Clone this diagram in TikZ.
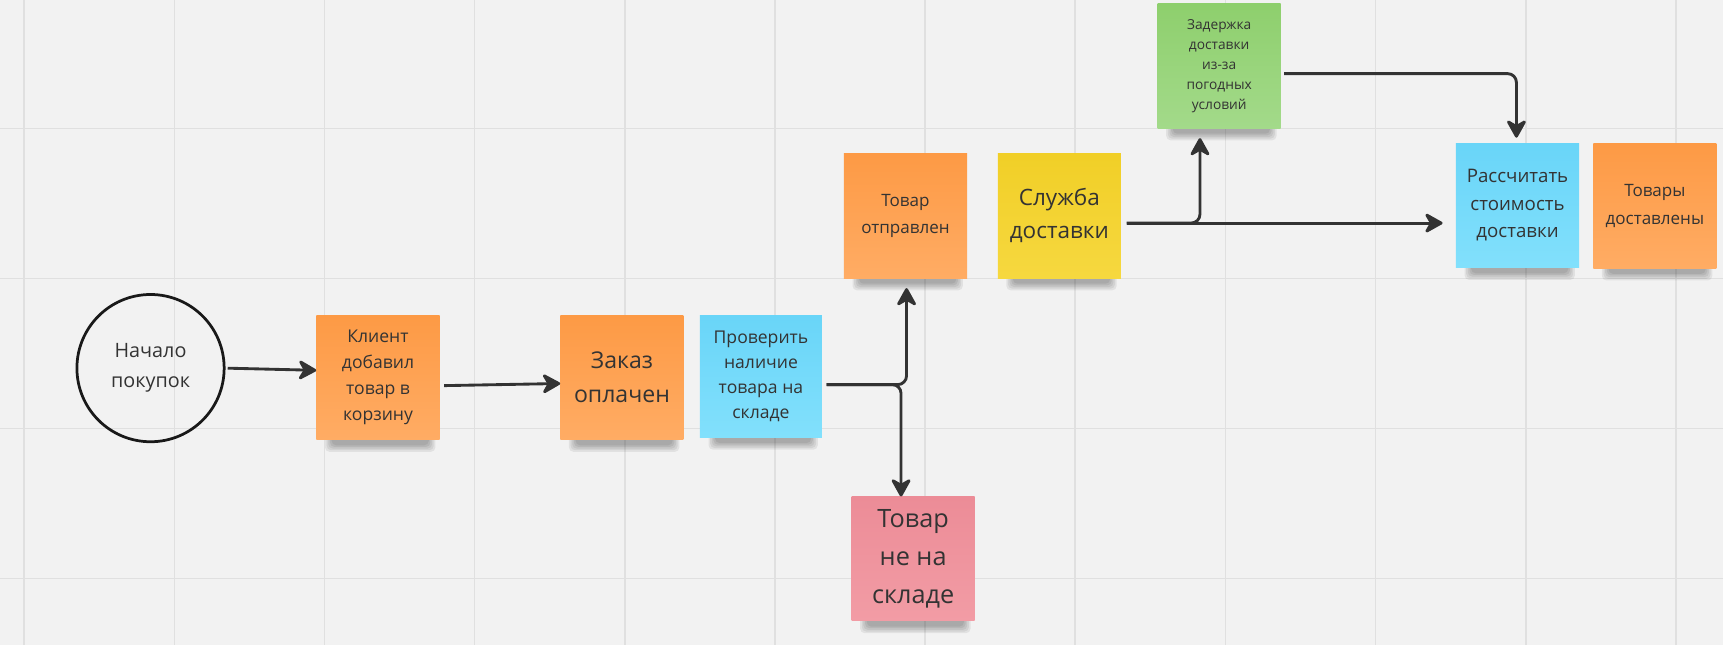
\documentclass[tikz,border=0pt]{standalone}
\usepackage{fontspec}
\setmainfont{Open Sans}
\usetikzlibrary{arrows.meta}
\pgfdeclarelayer{background}
\pgfsetlayers{background,main}
\definecolor{bg}{HTML}{F2F2F2}
\definecolor{gridc}{HTML}{E0E0E0}
\definecolor{ink}{HTML}{333333}
\definecolor{orTop}{HTML}{FD9A45}\definecolor{orBot}{HTML}{FFAC64}
\definecolor{yeTop}{HTML}{F1CF27}\definecolor{yeBot}{HTML}{F6D83F}
\definecolor{blTop}{HTML}{69D5F8}\definecolor{blBot}{HTML}{82E0FC}
\definecolor{grTop}{HTML}{8ECF6D}\definecolor{grBot}{HTML}{A3DA8A}
\definecolor{piTop}{HTML}{EC8C97}\definecolor{piBot}{HTML}{F29CA5}
\tikzset{
  sticky/.style={minimum width=112pt, minimum height=113pt, inner sep=2pt,
    align=center, text=ink},
  orangenote/.style={sticky, top color=orTop, bottom color=orBot},
  yellownote/.style={sticky, top color=yeTop, bottom color=yeBot},
  bluenote/.style={sticky, top color=blTop, bottom color=blBot},
  greennote/.style={sticky, top color=grTop, bottom color=grBot},
  pinknote/.style={sticky, top color=piTop, bottom color=piBot},
  arr/.style={draw=ink, line width=2.6pt, rounded corners=8pt,
    -{Stealth[length=19pt,width=21pt,inset=6pt,round]}},
  shadowpart/.style={fill=black, opacity=0.065, rounded corners=4pt}
}
\newcommand\noteshadow[1]{%
  \foreach \d in {0,1.5,3,4.5,6}{%
    \fill[shadowpart] ([xshift=8pt+\d pt, yshift=10pt]#1.south west)
      rectangle ([xshift=-4pt-\d pt, yshift=-11pt+\d pt]#1.south east);}}
\begin{document}
\begin{tikzpicture}[x=1pt,y=-1pt]
\useasboundingbox (0,0) rectangle (1568,587);
\begin{pgfonlayer}{background}
\fill[bg] (0,0) rectangle (1568,587);
\foreach \i in {0,...,11} \draw[gridc, line width=1.5pt] (22+136.65*\i,0) -- (22+136.65*\i,587);
\foreach \j in {0,...,3} \draw[gridc, line width=1.5pt] (0,117+136.5*\j) -- (1568,117+136.5*\j);
\end{pgfonlayer}

\node[circle, draw=black!90, line width=2.5pt, minimum size=134pt, text=ink,
  align=center, font=\fontsize{18}{27}\selectfont] (circ) at (137,335) {Начало\\покупок};
\node[orangenote, font=\fontsize{16}{23.5}\selectfont] (klient) at (344,343.5) {Клиент\\добавил\\товар в\\корзину};
\node[orangenote, font=\fontsize{21}{31}\selectfont] (zakaz) at (566,343.5) {Заказ\\оплачен};
\node[bluenote, minimum width=111pt, minimum height=111pt, font=\fontsize{16}{23}\selectfont] (prov) at (692.5,342.5) {Проверить\\наличие\\товара на\\складе};
\node[orangenote, font=\fontsize{15.5}{24}\selectfont] (otpr) at (824,196.5) {Товар\\отправлен};
\node[yellownote, font=\fontsize{20.5}{30}\selectfont] (sluzh) at (964,196.5) {Служба\\доставки};
\node[greennote, font=\fontsize{12.5}{18.2}\selectfont] (zader) at (1109.5,60) {Задержка\\доставки\\из-за\\погодных\\условий};
\node[bluenote, font=\fontsize{17}{25}\selectfont] (rassch) at (1381,187) {Рассчитать\\стоимость\\доставки};
\node[orangenote, font=\fontsize{15.5}{26}\selectfont] (dostavl) at (1506,187.5) {Товары\\доставлены};
\node[pinknote, font=\fontsize{23}{35}\selectfont] (netna) at (831,508.5) {Товар\\не на\\складе};

\begin{pgfonlayer}{background}
\foreach \n in {klient,zakaz,prov,otpr,sluzh,zader,rassch,dostavl,netna}{\noteshadow{\n}}
\end{pgfonlayer}

% connectors
\draw[arr, shorten <=2pt] (circ.east) -- ([yshift=6.5pt]klient.west);
\draw[arr, shorten <=4pt] ([yshift=-7.5pt]klient.east) -- ([yshift=-5.5pt]zakaz.west);

\coordinate (p0) at ([yshift=-7.5pt]prov.east);
\coordinate (bu) at (825,350);
\coordinate (bd) at (820,350);
\draw[arr, shorten <=4pt, shorten >=9pt] (p0) -- (bu) -- (bu |- otpr.south);
\draw[arr, shorten <=4pt] (p0) -- (bd) -- (bd |- netna.north);

\coordinate (s0) at ([yshift=-6.5pt]sluzh.east);
\coordinate (bz) at (1092,203);
\draw[arr, shorten <=5pt, shorten >=12pt] (s0) -- (s0 -| rassch.west);
\draw[arr, shorten <=5pt, shorten >=9pt] (s0) -- (bz) -- (bz |- zader.south);

\coordinate (z0) at ([yshift=-7pt]zader.east);
\coordinate (zc) at (1380,67);
\draw[arr, shorten <=3pt, shorten >=5pt] (z0) -- (zc) -- (zc |- rassch.north);
\end{tikzpicture}
\end{document}
